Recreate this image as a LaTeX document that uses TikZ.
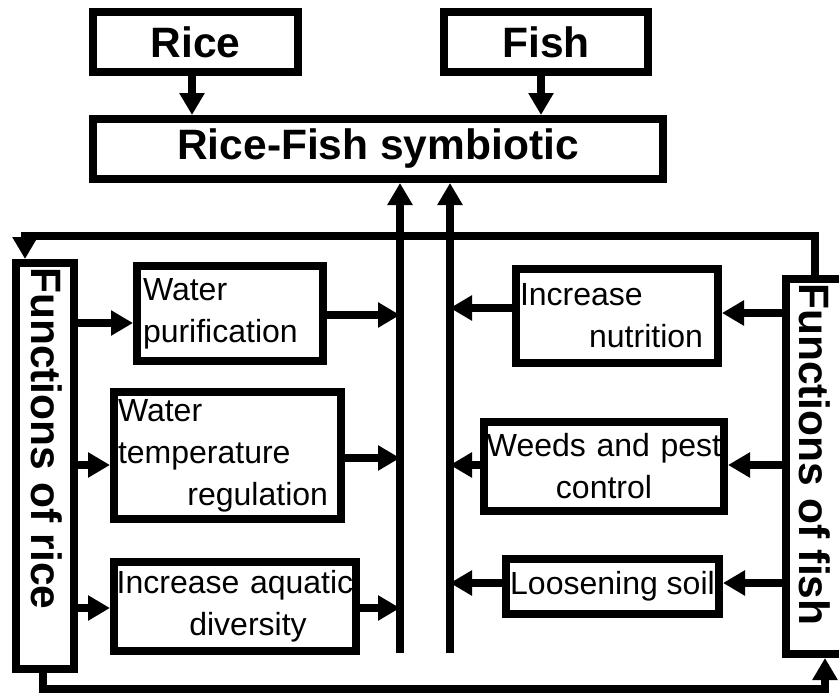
\documentclass[tikz,border=0pt]{standalone}
\usepackage{fontspec}
\setmainfont{Liberation Sans}
\usetikzlibrary{arrows.meta}
\begin{document}
\begin{tikzpicture}[x=1pt,y=-1pt,
  box/.style={draw, line width=8pt, inner sep=0pt, font=\fontsize{32}{42}\selectfont},
  headbox/.style={draw, line width=8pt, inner sep=0pt, font=\bfseries\fontsize{42.5}{50}\selectfont},
  sidebox/.style={draw, line width=8pt, inner sep=0pt},
  sidetext/.style={rotate=-90, anchor=base west, inner sep=0pt, font=\bfseries\fontsize{42.5}{50}\selectfont},
  arr/.style={line width=8pt, line join=miter, -{Triangle[length=22pt,width=24pt]}},
]
\useasboundingbox (0,0) rectangle (839,696);
\clip (0,0) rectangle (839,696);

% top boxes
\node[headbox, minimum width=205pt, minimum height=60pt] (rice) at (195.5,42) {Rice};
\node[headbox, minimum width=204pt, minimum height=60pt] (fish) at (546,42) {Fish};
\node[headbox, minimum width=570pt, minimum height=60pt] (rfs) at (378,149) {Rice-Fish symbiotic};

% side boxes
\node[sidebox, minimum width=58pt, minimum height=406pt] (fr) at (45,466) {};
\node[sidetext] (frt) at (31,267) {Functions of rice};
\node[sidebox, minimum width=58pt, minimum height=375pt] (ff) at (815,466.5) {};
\node[sidetext] (fft) at (799,283) {Functions of fish};

% rice functions
\node[box, minimum width=186pt, minimum height=95pt, text width=174pt, align=left] (wp) at (230,313.5) {Water\\purification};
\node[box, minimum width=227pt, minimum height=127pt, text width=219pt, align=left] (wtr) at (227.5,455.5) {Water\\temperature\\\makebox[\hsize][r]{regulation\hspace*{9pt}}};
\node[box, minimum width=242pt, minimum height=89pt, text width=240pt, align=center] (iad) at (235,606.5) {Increase aquatic\\\hspace*{26pt}diversity};

% fish functions
\node[box, minimum width=202pt, minimum height=94pt, text width=194pt, align=left] (inu) at (617,316) {Increase\\\makebox[\hsize][r]{nutrition\hspace*{11pt}}};
\node[box, minimum width=240pt, minimum height=89pt, text width=236pt, align=center] (wpc) at (604,466.5) {Weeds and pest\\control};
\node[box, minimum width=213pt, minimum height=55pt] (ls) at (612.5,586.5) {Loosening soil};

% collector lines
\coordinate (Lb) at (400,653);
\coordinate (Rb) at (450,653);

% arrows into Rice-Fish symbiotic
\draw[arr] (rice.south -| 192,0) -- (rfs.north -| 192,0);
\draw[arr] (fish.south -| 541,0) -- (rfs.north -| 541,0);
\draw[arr] (Lb) -- (Lb |- rfs.south);
\draw[arr] (Rb) -- (Rb |- rfs.south);

% functions of rice -> boxes
\draw[arr] (fr.east |- 0,323) -- (wp.west |- 0,323);
\draw[arr] (fr.east |- 0,465) -- (wtr.west |- 0,465);
\draw[arr] (fr.east |- 0,608) -- (iad.west |- 0,608);
\draw[arr] (wp.east |- 0,315) -- (Lb |- 0,315);
\draw[arr] (wtr.east |- 0,458) -- (Lb |- 0,458);
\draw[arr] (iad.east |- 0,608) -- (Lb |- 0,608);

% functions of fish -> boxes
\draw[arr] (ff.west |- 0,313) -- (inu.east |- 0,313);
\draw[arr] (ff.west |- 0,465) -- (wpc.east |- 0,465);
\draw[arr] (ff.west |- 0,583) -- (ls.east |- 0,583);
\draw[arr] (inu.west |- 0,308) -- (Rb |- 0,308);
\draw[arr] (wpc.west |- 0,465) -- (Rb |- 0,465);
\draw[arr] (ls.west |- 0,583) -- (Rb |- 0,583);

% feedback loops
\draw[arr] (ff.north) |- (25,236) -- (fr.north -| 25,0);
\draw[arr] (fr.south -| 43,0) |- (825,689) -- (ff.south -| 825,0);
\end{tikzpicture}
\end{document}
